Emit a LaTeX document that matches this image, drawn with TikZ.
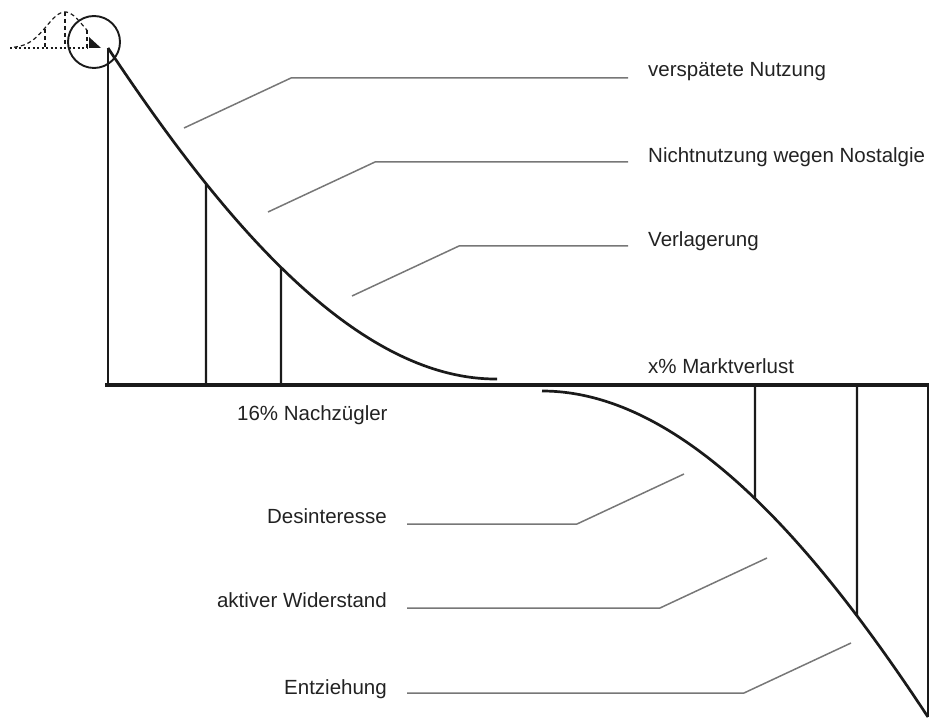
\documentclass[tikz,border=0pt]{standalone}
\usepackage{fontspec}
\setmainfont{Liberation Sans}
\usetikzlibrary{intersections}
\definecolor{ink}{HTML}{1A1A1A}
\definecolor{leadgray}{HTML}{777777}
\definecolor{txt}{HTML}{222222}
\begin{document}
\begin{tikzpicture}[x=1pt,y=-1pt,
  curve/.style={draw=ink,line width=2.7pt},
  post/.style={draw=ink,line width=2.3pt},
  axisline/.style={draw=ink,line width=4.5pt},
  leader/.style={draw=leadgray,line width=1.5pt},
  lbl/.style={text=txt,font=\fontsize{20.5}{24}\selectfont,inner sep=0pt},
  bell/.style={draw=ink,line width=1.2pt,dash pattern=on 4pt off 3pt},
  bellbase/.style={draw=ink,line width=1.2pt,dash pattern=on 2pt off 2.5pt}]
\useasboundingbox (0,0) rectangle (929,719);

% --- small bell-curve icon with magnifier circle ---
\draw[bell] plot[domain=14:87,samples=40,smooth] (\x,{48-36*exp(-((\x-65)/18.5)^2/2)});
\draw[bellbase] (10,48) -- (87,48);
\draw[bell] (45,29) -- (45,48);
\draw[bell] (65,12) -- (65,48);
\draw[bell] (87,30) -- (87,48);
\draw[ink,line width=1.9pt] (94,42) circle (26);
\fill[ink] (89,37) -- (89,48) -- (101,48) -- cycle;

% --- baseline ---
\coordinate (axl) at (105,385);
\coordinate (axr) at (929,385);
\draw[axisline] (axl) -- (axr);

% --- upper curve and its posts ---
\coordinate (ustart) at (108,48);
\coordinate (uend) at (497,379);
\draw[curve,name path=up] (ustart) .. controls (208,198) and (347,380) .. (uend);
\draw[post] (108,385) -- (ustart);
\path[name path=va] (206,0) -- (206,400);
\path[name path=vb] (281,0) -- (281,400);
\path[name intersections={of=up and va,by=ia}];
\path[name intersections={of=up and vb,by=ib}];
\draw[post] (206,385) -- (ia);
\draw[post] (281,385) -- (ib);

% --- lower curve and its posts ---
\coordinate (lstart) at (542,391);
\coordinate (lend) at (928,717);
\draw[curve,name path=low] (lstart) .. controls (692,391) and (829,567) .. (lend);
\path[name path=vc] (755,385) -- (755,719);
\path[name path=vd] (857,385) -- (857,719);
\path[name intersections={of=low and vc,by=ic}];
\path[name intersections={of=low and vd,by=id}];
\draw[post] (755,387) -- (ic);
\draw[post] (857,387) -- (id);
\draw[post] (928,387) -- (lend);

% --- upper labels ---
\node[lbl,anchor=base west] (t1) at (648,77) {verspätete Nutzung};
\node[lbl,anchor=base west] (t2) at (648,163) {Nichtnutzung wegen Nostalgie};
\node[lbl,anchor=base west] (t3) at (648,247) {Verlagerung};
\node[lbl,anchor=base west] (t4) at (648,373) {x\% Marktverlust};
\node[lbl,anchor=base west] (t5) at (237,420) {16\% Nachzügler};

\coordinate (a1) at (184,128); \coordinate (b1) at (291,78);  \coordinate (c1) at (628,78);
\coordinate (a2) at (268,212); \coordinate (b2) at (375,162); \coordinate (c2) at (628,162);
\coordinate (a3) at (352,296); \coordinate (b3) at (459,246); \coordinate (c3) at (628,246);
\draw[leader] (a1) -- (b1) -- (c1);
\draw[leader] (a2) -- (b2) -- (c2);
\draw[leader] (a3) -- (b3) -- (c3);

% --- lower labels ---
\node[lbl,anchor=base east] (t6) at (387,523) {Desinteresse};
\node[lbl,anchor=base east] (t7) at (387,607) {aktiver Widerstand};
\node[lbl,anchor=base east] (t8) at (387,694) {Entziehung};

\coordinate (d1) at (407,524); \coordinate (e1) at (577,524); \coordinate (f1) at (684,474);
\coordinate (d2) at (407,608); \coordinate (e2) at (660,608); \coordinate (f2) at (767,558);
\coordinate (d3) at (407,693); \coordinate (e3) at (744,693); \coordinate (f3) at (851,643);
\draw[leader] (d1) -- (e1) -- (f1);
\draw[leader] (d2) -- (e2) -- (f2);
\draw[leader] (d3) -- (e3) -- (f3);
\end{tikzpicture}
\end{document}
